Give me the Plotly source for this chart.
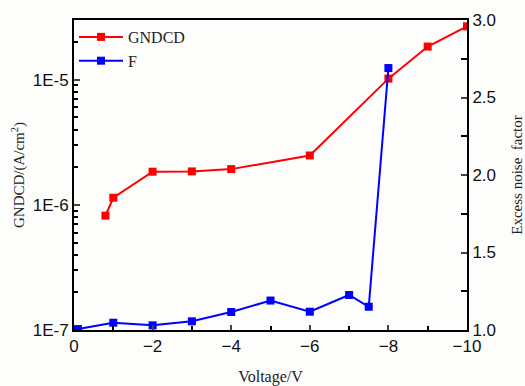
import plotly.graph_objects as go
import math

# Data
v_gndcd = [-0.8, -1, -2, -3, -4, -6, -8, -9, -10]
gndcd = [8.2e-7, 1.14e-6, 1.84e-6, 1.85e-6, 1.93e-6, 2.48e-6, 1.02e-5, 1.84e-5, 2.67e-5]
v_f = [-0.1, -1, -2, -3, -4, -5, -6, -7, -7.5, -8]
f_vals = [1.006, 1.047, 1.03, 1.056, 1.116, 1.19, 1.118, 1.226, 1.15, 2.69]
x_ticks = [0, -2, -4, -6, -8, -10]
y_left_ticks = [1e-7, 1e-6, 1e-5]
y_left_text = ["1E-7", "1E-6", "1E-5"]

serif = "Liberation Serif, Times New Roman, serif"
sans = "Liberation Sans, Arial, sans-serif"

fig = go.Figure()
fig.add_trace(go.Scatter(x=v_gndcd, y=gndcd, name="GNDCD", mode="lines+markers",
                         line=dict(color="#ff0000", width=2),
                         marker=dict(symbol="square", size=8, color="#ff0000"),
                         yaxis="y"))
fig.add_trace(go.Scatter(x=v_f, y=f_vals, name="F", mode="lines+markers",
                         line=dict(color="#0000ff", width=2),
                         marker=dict(symbol="square", size=8, color="#0000ff"),
                         yaxis="y2"))

minor_log = [m * 10 ** e for e in (-7, -6, -5) for m in range(2, 10) if m * 10 ** e < 3e-5]

fig.update_layout(
    width=525, height=386,
    margin=dict(l=74, r=58, t=20, b=56),
    paper_bgcolor="#fdfdfb", plot_bgcolor="#fdfdfb",
    showlegend=True,
    legend=dict(x=0.0, y=1.0, xanchor="left", yanchor="top",
                bgcolor="rgba(0,0,0,0)", font=dict(family=serif, size=16, color="#222"),
                itemwidth=44, tracegroupgap=8),
    xaxis=dict(range=[0, -10], tickvals=x_ticks, ticks="inside", ticklen=5, tickwidth=1.5,
               showline=True, linecolor="black", linewidth=2, mirror=True,
               showgrid=False, zeroline=False, automargin=False,
               minor=dict(tickvals=[-1, -3, -5, -7, -9], ticks="inside", ticklen=4, tickwidth=1.5, tickcolor="black"),
               tickfont=dict(family=sans, size=17, color="#111"),
               title=dict(text="Voltage/V", font=dict(family=serif, size=16, color="#222"), standoff=22)),
    yaxis=dict(type="log", range=[-7, math.log10(3e-5)], tickvals=y_left_ticks, ticktext=y_left_text,
               ticks="inside", ticklen=6, tickwidth=1.5,
               showline=True, linecolor="black", linewidth=2,
               showgrid=False, zeroline=False, automargin=False,
               minor=dict(tickvals=minor_log, ticks="inside", ticklen=4, tickwidth=1.5, tickcolor="black"),
               tickfont=dict(family=sans, size=17, color="#111"),
               title=dict(text="GNDCD/(A/cm<sup>2</sup>)", font=dict(family=serif, size=15, color="#222"), standoff=4)),
    yaxis2=dict(overlaying="y", side="right", range=[1, 3], tickvals=[1.0, 1.5, 2.0, 2.5, 3.0],
                ticktext=["1.0", "1.5", "2.0", "2.5", "3.0"],
                ticks="inside", ticklen=6, tickwidth=1.5,
                showline=True, linecolor="black", linewidth=2,
                showgrid=False, zeroline=False, automargin=False,
                minor=dict(tickvals=[1.25, 1.75, 2.25, 2.75], ticks="inside", ticklen=6, tickwidth=1.5, tickcolor="black"),
                tickfont=dict(family=sans, size=17, color="#111"),
                title=dict(text="Excess noise  factor", font=dict(family=serif, size=15, color="#222"), standoff=16)),
)

fig.write_html("out.html")
